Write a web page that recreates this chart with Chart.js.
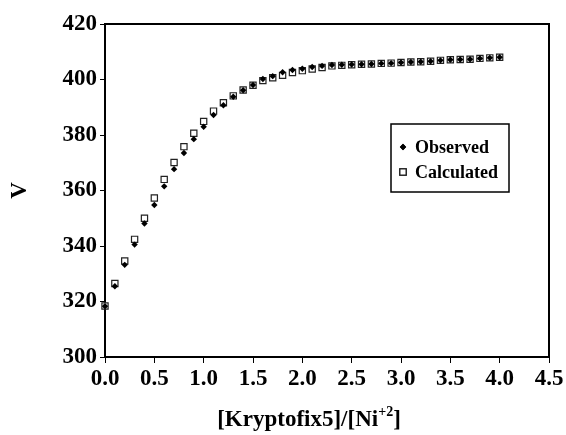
<!DOCTYPE html>
<html>
<head>
<meta charset="utf-8">
<script src="https://cdn.jsdelivr.net/npm/chart.js@4/dist/chart.umd.min.js"></script>
<style>
  html, body { margin: 0; padding: 0; background: #fff; }
  #wrap { width: 566px; height: 435px; }
</style>
</head>
<body>
<div id="wrap"><canvas id="chart" width="566" height="435"></canvas></div>
<script>
// DATA

const ratio = [0.0, 0.1, 0.2, 0.3, 0.4, 0.5, 0.6, 0.7, 0.8, 0.9,
               1.0, 1.1, 1.2, 1.3, 1.4, 1.5, 1.6, 1.7, 1.8, 1.9,
               2.0, 2.1, 2.2, 2.3, 2.4, 2.5, 2.6, 2.7, 2.8, 2.9,
               3.0, 3.1, 3.2, 3.3, 3.4, 3.5, 3.6, 3.7, 3.8, 3.9, 4.0];

const observed = [318.3, 325.5, 333.2, 340.5, 348.1, 354.8, 361.5, 367.7, 373.5, 378.5,
                  383.0, 387.2, 390.7, 393.8, 396.1, 398.0, 400.2, 401.2, 402.6, 403.4,
                  403.9, 404.5, 404.9, 405.2, 405.3, 405.4, 405.5, 405.6, 405.8, 405.9,
                  406.1, 406.3, 406.4, 406.6, 406.9, 407.1, 407.2, 407.3, 407.6, 407.8, 408.0];

const calculated = [318.4, 326.5, 334.6, 342.4, 350.0, 357.3, 364.0, 370.1, 375.8, 380.6,
                    384.9, 388.6, 391.6, 394.1, 396.2, 397.9, 399.6, 400.6, 401.5, 402.5,
                    403.2, 403.8, 404.3, 404.9, 405.1, 405.3, 405.5, 405.6, 405.8, 405.9,
                    406.1, 406.3, 406.4, 406.6, 406.9, 407.1, 407.2, 407.3, 407.6, 407.8, 408.0];

const seriesNames = ['Observed', 'Calculated'];
const xTitle = ['[Kryptofix5]/[Ni', '+2', ']'];
const yTitle = 'V';

const serif = '"Liberation Serif", "Times New Roman", serif';

// draw the full frame around the plot area
const framePlugin = {
    id: 'frame',
    beforeDatasetsDraw(chart) {
        const { ctx, chartArea: a } = chart;
        ctx.save();
        ctx.strokeStyle = '#000';
        ctx.lineWidth = 2;
        ctx.strokeRect(a.left, a.top, a.right - a.left, a.bottom - a.top);
        ctx.restore();
    }
};

// x axis title with superscript
const xTitlePlugin = {
    id: 'xTitle',
    afterDraw(chart) {
        const ctx = chart.ctx;
        const big = 'bold 23px ' + serif;
        const small = 'bold 14px ' + serif;
        ctx.save();
        ctx.fillStyle = '#000';
        ctx.textBaseline = 'alphabetic';
        ctx.font = big;
        const w1 = ctx.measureText(xTitle[0]).width;
        const w3 = ctx.measureText(xTitle[2]).width;
        ctx.font = small;
        const w2 = ctx.measureText(xTitle[1]).width;
        let x = 309 - (w1 + w2 + w3) / 2;
        const base = 426;
        ctx.font = big;
        ctx.fillText(xTitle[0], x, base);
        x += w1;
        ctx.font = small;
        ctx.fillText(xTitle[1], x, base - 10);
        x += w2;
        ctx.font = big;
        ctx.fillText(xTitle[2], x, base);
        ctx.restore();
    }
};

// boxed legend inside the plot
const boxLegendPlugin = {
    id: 'boxLegend',
    afterDraw(chart) {
        const ctx = chart.ctx;
        ctx.save();
        ctx.strokeStyle = '#000';
        ctx.lineWidth = 1.5;
        ctx.strokeRect(391, 124, 118, 68);
        ctx.font = 'bold 18px ' + serif;
        ctx.fillStyle = '#000';
        ctx.textBaseline = 'middle';
        const rows = [147, 172];
        chart.data.datasets.forEach((ds, i) => {
            Chart.helpers.drawPoint(ctx, {
                pointStyle: ds.pointStyle,
                radius: ds.pointRadius,
                rotation: 0,
                borderWidth: ds.borderWidth
            }, 403, rows[i]);
            ctx.fillStyle = ds.backgroundColor;
            ctx.strokeStyle = ds.borderColor;
            ctx.lineWidth = ds.borderWidth;
            ctx.fill();
            if (ds.borderWidth) ctx.stroke();
            ctx.fillStyle = '#000';
            ctx.fillText(ds.label, 415, rows[i] + 1);
        });
        ctx.restore();
    }
};

const ctx = document.getElementById('chart').getContext('2d');
new Chart(ctx, {
    type: 'scatter',
    data: {
        datasets: [{
            label: seriesNames[0],
            data: ratio.map((r, i) => ({ x: r, y: observed[i] })),
            pointStyle: 'rectRot',
            pointRadius: 3.2,
            backgroundColor: '#000',
            borderColor: '#000',
            borderWidth: 0,
            clip: false
        }, {
            label: seriesNames[1],
            data: ratio.map((r, i) => ({ x: r, y: calculated[i] })),
            pointStyle: 'rect',
            pointRadius: 4.4,
            backgroundColor: '#fff',
            borderColor: '#222',
            borderWidth: 1.2,
            clip: false
        }]
    },
    options: {
        responsive: false,
        animation: false,
        devicePixelRatio: 1,
        layout: { padding: { left: 0, right: 17, top: 24, bottom: 0 } },
        plugins: {
            legend: { display: false },
            tooltip: { enabled: false }
        },
        scales: {
            x: {
                type: 'linear',
                min: 0,
                max: 4.5,
                afterFit: s => { s.height = 78; },
                ticks: {
                    stepSize: 0.5,
                    padding: 2,
                    color: '#000',
                    font: { family: serif, size: 23, weight: 'bold' },
                    callback: v => v.toFixed(1)
                },
                grid: { drawOnChartArea: false, tickLength: 6, color: '#000', lineWidth: 1 },
                border: { color: '#000', width: 2 }
            },
            y: {
                min: 300,
                max: 420,
                afterFit: s => { s.width = 105; },
                ticks: {
                    stepSize: 20,
                    padding: 3,
                    color: '#000',
                    font: { family: serif, size: 23, weight: 'bold' }
                },
                grid: { drawOnChartArea: false, tickLength: 5, color: '#000', lineWidth: 1 },
                border: { color: '#000', width: 2 },
                title: {
                    display: true,
                    text: yTitle,
                    color: '#000',
                    padding: { top: 6, bottom: 0 },
                    font: { family: serif, size: 23, weight: 'bold' }
                }
            }
        }
    },
    plugins: [framePlugin, xTitlePlugin, boxLegendPlugin]
});
</script>
</body>
</html>
